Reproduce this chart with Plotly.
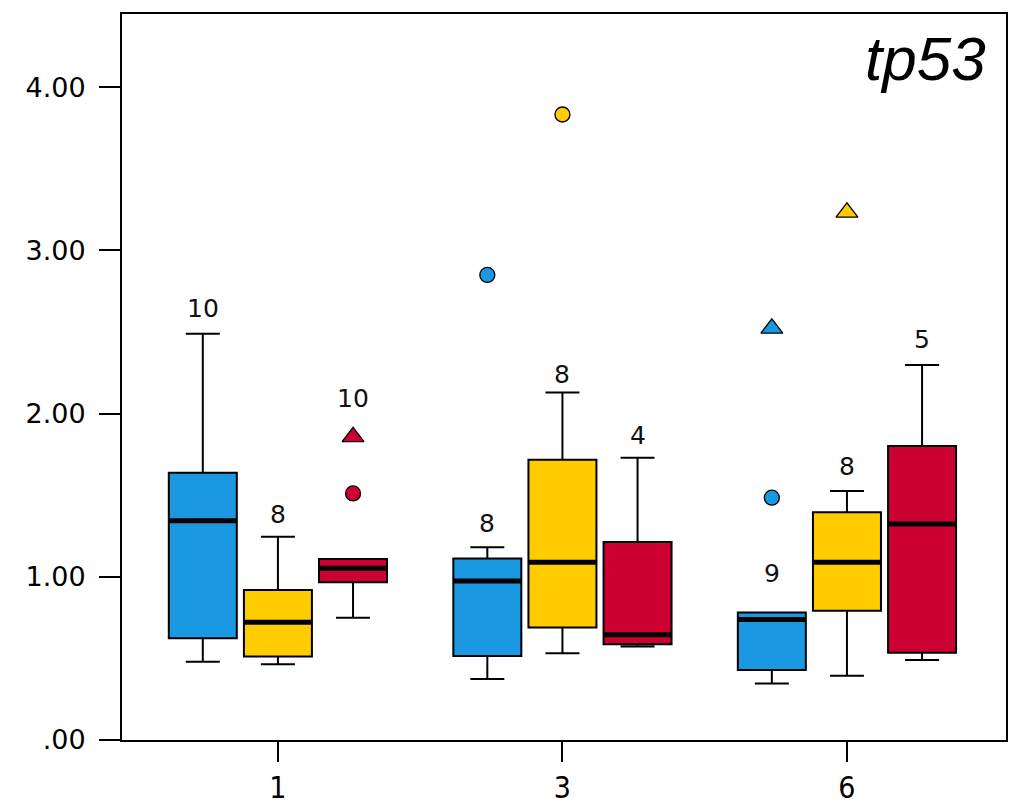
import plotly.graph_objects as go

# Time points on the x axis
categories = ["1", "3", "6"]

# Five-number summaries per series (one value per time point)
blue_q1 = [0.623, 0.515, 0.429]
blue_median = [1.344, 0.975, 0.739]
blue_q3 = [1.638, 1.113, 0.782]
blue_low = [0.480, 0.374, 0.347]
blue_high = [2.490, 1.181, 0.782]

yellow_q1 = [0.511, 0.689, 0.792]
yellow_median = [0.721, 1.089, 1.089]
yellow_q3 = [0.919, 1.718, 1.395]
yellow_low = [0.464, 0.532, 0.394]
yellow_high = [1.246, 2.130, 1.526]

red_q1 = [0.966, 0.587, 0.535]
red_median = [1.052, 0.645, 1.324]
red_q3 = [1.109, 1.214, 1.801]
red_low = [0.749, 0.573, 0.490]
red_high = [1.109, 1.730, 2.298]

# Outliers: time-point index, value, kind ("o" = outlier, "e" = extreme)
blue_out_idx = [1, 2, 2]
blue_out_val = [2.850, 2.523, 1.485]
blue_out_kind = ["o", "e", "o"]

yellow_out_idx = [1, 2]
yellow_out_val = [3.833, 3.233]
yellow_out_kind = ["o", "e"]

red_out_idx = [0, 0]
red_out_val = [1.858, 1.511]
red_out_kind = ["e", "o"]

# Case labels shown above each box
blue_labels = ["10", "8", "9"]
yellow_labels = ["8", "8", "8"]
red_labels = ["10", "4", "5"]

y_ticks = [0, 1, 2, 3, 4]
y_ticktext = [".00", "1.00", "2.00", "3.00", "4.00"]

# ---- styling ----
BLUE = "#1B98E2"
YELLOW = "#FFCC00"
RED = "#CC0033"
OFFSET = 0.264
BOX_W = 0.239
SYMBOLS = {"o": "circle", "e": "triangle-up"}
SIZES = {"o": 15, "e": 19}

# each case label sits above the upper whisker, except the first red one,
# which sits above its extreme-value triangle
blue_anchor = blue_high
yellow_anchor = yellow_high
red_anchor = [red_out_val[0], red_high[1], red_high[2]]

series = [
    dict(color=BLUE, shift=-OFFSET, q1=blue_q1, med=blue_median, q3=blue_q3,
         lo=blue_low, hi=blue_high, oi=blue_out_idx, ov=blue_out_val,
         ok=blue_out_kind, labels=blue_labels, anchor=blue_anchor,
         lshift=[25, 24, 39]),
    dict(color=YELLOW, shift=0.0, q1=yellow_q1, med=yellow_median, q3=yellow_q3,
         lo=yellow_low, hi=yellow_high, oi=yellow_out_idx, ov=yellow_out_val,
         ok=yellow_out_kind, labels=yellow_labels, anchor=yellow_anchor,
         lshift=[22, 18, 24]),
    dict(color=RED, shift=OFFSET, q1=red_q1, med=red_median, q3=red_q3,
         lo=red_low, hi=red_high, oi=red_out_idx, ov=red_out_val,
         ok=red_out_kind, labels=red_labels, anchor=red_anchor,
         lshift=[38, 22, 26]),
]

fig = go.Figure()
annotations = []

for s in series:
    xs = [i + s["shift"] for i in range(len(categories))]
    fig.add_trace(go.Box(
        x=xs, q1=s["q1"], median=s["med"], q3=s["q3"],
        lowerfence=s["lo"], upperfence=s["hi"],
        width=BOX_W, whiskerwidth=0.5, boxpoints=False,
        fillcolor=s["color"], line=dict(color="black", width=2),
        showlegend=False, hoverinfo="skip",
    ))
    # thick median bars
    mx, my = [], []
    for x, m in zip(xs, s["med"]):
        mx += [x - BOX_W / 2, x + BOX_W / 2, None]
        my += [m, m, None]
    fig.add_trace(go.Scatter(x=mx, y=my, mode="lines",
                             line=dict(color="black", width=5),
                             showlegend=False, hoverinfo="skip"))
    # outlier markers
    ox = [i + s["shift"] for i in s["oi"]]
    fig.add_trace(go.Scatter(
        x=ox, y=s["ov"], mode="markers", showlegend=False, hoverinfo="skip",
        marker=dict(color=s["color"], opacity=1,
                    symbol=[SYMBOLS[k] for k in s["ok"]],
                    size=[SIZES[k] for k in s["ok"]],
                    line=dict(color="black", width=1.3)),
    ))
    # case labels
    for i, lab in enumerate(s["labels"]):
        annotations.append(dict(
            x=xs[i], y=s["anchor"][i], text=lab, showarrow=False,
            yshift=s["lshift"][i], yanchor="middle",
            font=dict(family="DejaVu Sans", size=25, color="#111111"),
        ))

annotations.append(dict(
    x=0.98, y=0.888, xref="paper", yref="paper", text="<i>tp53</i>",
    showarrow=False, xanchor="right", yanchor="bottom",
    font=dict(family="Liberation Sans, Arial", size=62, color="black"),
))

fig.update_layout(
    width=1018, height=807,
    margin=dict(l=122, r=12, t=14, b=67),
    paper_bgcolor="white", plot_bgcolor="white",
    boxmode="overlay",
    annotations=annotations,
    xaxis=dict(
        range=[-0.548, 2.559], tickvals=[0, 1, 2], ticktext=categories,
        showline=True, linecolor="black", linewidth=2, mirror=True,
        ticks="outside", ticklen=20, tickwidth=2, tickcolor="black",
        showgrid=False, zeroline=False, automargin=False,
        ticklabelstandoff=0,
        tickfont=dict(family="DejaVu Sans Condensed, DejaVu Sans", size=30,
                      color="black"),
    ),
    yaxis=dict(
        range=[0, 4.449], tickvals=y_ticks, ticktext=y_ticktext,
        showline=True, linecolor="black", linewidth=2, mirror=True,
        ticks="outside", ticklen=21, tickwidth=2, tickcolor="black",
        showgrid=False, zeroline=False, automargin=False,
        ticklabelstandoff=8,
        tickfont=dict(family="DejaVu Sans", size=27, color="black"),
    ),
)

fig.write_html("out.html")
